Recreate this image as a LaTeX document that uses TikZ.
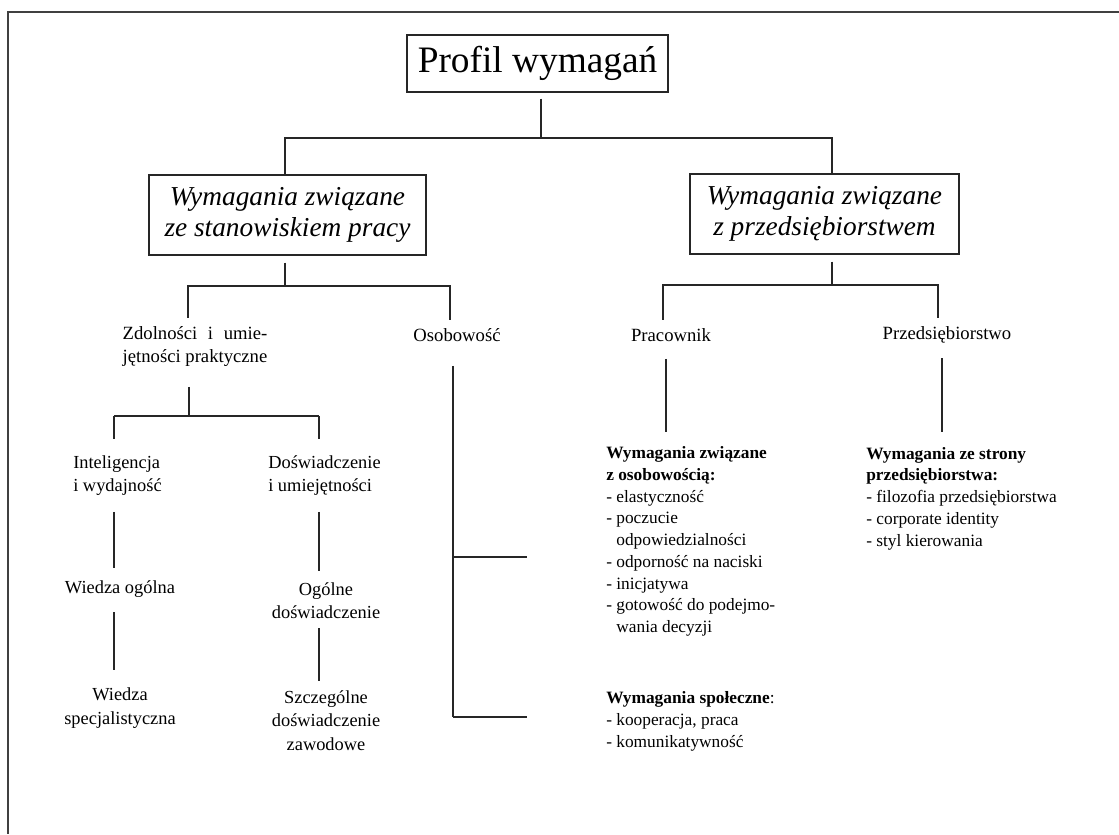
\documentclass[tikz,border=0pt]{standalone}
\usepackage{fontspec}
\usepackage{calc}
\setmainfont{Liberation Serif}
\begin{document}
\begin{tikzpicture}[x=0.75pt,y=-0.75pt,
  conn/.style={draw=black!85,line width=0.8pt},
  frame/.style={draw=black!75,line width=1pt},
  titlebox/.style={draw=black!85,line width=1pt,inner sep=0pt,font=\fontsize{28}{32}\selectfont},
  headbox/.style={draw=black!85,line width=1pt,inner sep=0pt,align=center,font=\fontsize{20.5}{23.3}\selectfont\itshape},
  label/.style={inner sep=0pt,align=center,font=\fontsize{14}{17.3}\selectfont},
  item/.style={inner sep=0pt,align=center,font=\fontsize{13.8}{17.6}\selectfont},
  list/.style={inner sep=0pt,align=left,anchor=west,font=\fontsize{13}{16.3}\selectfont},
]
\useasboundingbox (0,0) rectangle (1119,834);
\fill[white] (0,0) rectangle (1119,834);
\draw[frame] (1119,12) -- (8,12) -- (8,834);

% top of the hierarchy
\node[titlebox,minimum width=195.75pt,minimum height=42.75pt] (title) at (537.5,63.5) {Profil wymagań};
\node[headbox,minimum width=207.75pt,minimum height=60pt] (jobreq) at (287.5,215) {Wymagania związane\\ze stanowiskiem pracy};
\node[headbox,minimum width=201.75pt,minimum height=60pt] (compreq) at (824.5,214) {Wymagania związane\\z przedsiębiorstwem};

% second level
\node[label] (abil) at (195,346.5) {\makebox[\widthof{jętności praktyczne}][s]{Zdolności i umie-}\\jętności praktyczne};
\node[label] (pers) at (457,335) {Osobowość};
\node[label] (empl) at (671,335) {Pracownik};
\node[label] (comp) at (947,335) {Przedsiębiorstwo};

% abilities branch
\node[item,align=left,anchor=west] (intel) at (73,475.5) {Inteligencja\\i wydajność};
\node[item,align=left,anchor=west] (exper) at (268,475.5) {Doświadczenie\\i umiejętności};
\node[item] (genknow) at (120,589) {Wiedza ogólna};
\node[item] (specknow) at (120,708) {Wiedza\\specjalistyczna};
\node[item] (genexp) at (326,600.5) {Ogólne\\doświadczenie};
\node[item] (specexp) at (326,720.5) {Szczególne\\doświadczenie\\zawodowe};

% requirement lists
\node[list] (perslist) at (606,541.5) {\textbf{Wymagania związane}\\\textbf{z osobowością:}\\- elastyczność\\- poczucie\\\phantom{- }odpowiedzialności\\- odporność na naciski\\- inicjatywa\\- gotowość do podejmo-\\\phantom{- }wania decyzji};
\node[list] (soclist) at (606,721.5) {\textbf{Wymagania społeczne}:\\- kooperacja, praca\\- komunikatywność};
\node[list] (complist) at (866,498.5) {\textbf{Wymagania ze strony}\\\textbf{przedsiębiorstwa:}\\- filozofia przedsiębiorstwa\\- corporate identity\\- styl kierowania};

% junctions
\coordinate (b1) at (541,138);
\coordinate (b2) at (285,286);
\coordinate (b3) at (832,285);
\coordinate (b4) at (189,416);
\coordinate (b5) at (453,557);
\coordinate (b6) at (453,717);
\coordinate (lc) at (114,416);
\coordinate (rc) at (319,416);

% connectors
\draw[conn] (title.south -| b1) ++(0,6) -- (b1);
\draw[conn] (b1) -| (jobreq.north -| b2);
\draw[conn] (b1) -| (compreq.north -| b3);

\draw[conn] (jobreq.south -| b2) ++(0,7) -- (b2);
\draw[conn,shorten >=6pt] (b2) -| ([xshift=-5.25pt]abil.north);
\draw[conn,shorten >=6pt] (b2) -| ([xshift=-5.25pt]pers.north);
\draw[conn] (compreq.south -| b3) ++(0,7) -- (b3);
\draw[conn,shorten >=6pt] (b3) -| ([xshift=-6pt]empl.north);
\draw[conn,shorten >=6pt] (b3) -| ([xshift=-6.75pt]comp.north);

\draw[conn] (abil.south -| b4) ++(0,20) -- (b4);
\draw[conn] (lc) -- (rc);
\draw[conn,shorten >=12pt] (lc) -- (intel.north -| lc);
\draw[conn,shorten >=12pt] (rc) -- (exper.north -| rc);
\draw[conn,shorten <=12pt,shorten >=9pt] (intel.south -| lc) -- (genknow.north -| lc);
\draw[conn,shorten <=11pt,shorten >=13.5pt] (genknow.south -| lc) -- (specknow.north -| lc);
\draw[conn,shorten <=12pt,shorten >=8pt] (exper.south -| rc) -- (genexp.north -| rc);
\draw[conn,shorten <=7pt,shorten >=7pt] (genexp.south -| rc) -- (specexp.north -| rc);

\draw[conn] (pers.south -| b5) ++(0,24) -- (b6);
\draw[conn,shorten >=59pt] (b5) -- (b5 -| perslist.west);
\draw[conn,shorten >=59pt] (b6) -- (b6 -| soclist.west);

\draw[conn,shorten <=12.75pt,shorten >=11pt] ([xshift=-3.75pt]empl.south) -- ([xshift=-3.75pt]empl.south |- perslist.north);
\draw[conn,shorten <=11pt,shorten >=11pt] ([xshift=-3.75pt]comp.south) -- ([xshift=-3.75pt]comp.south |- complist.north);
\end{tikzpicture}
\end{document}
